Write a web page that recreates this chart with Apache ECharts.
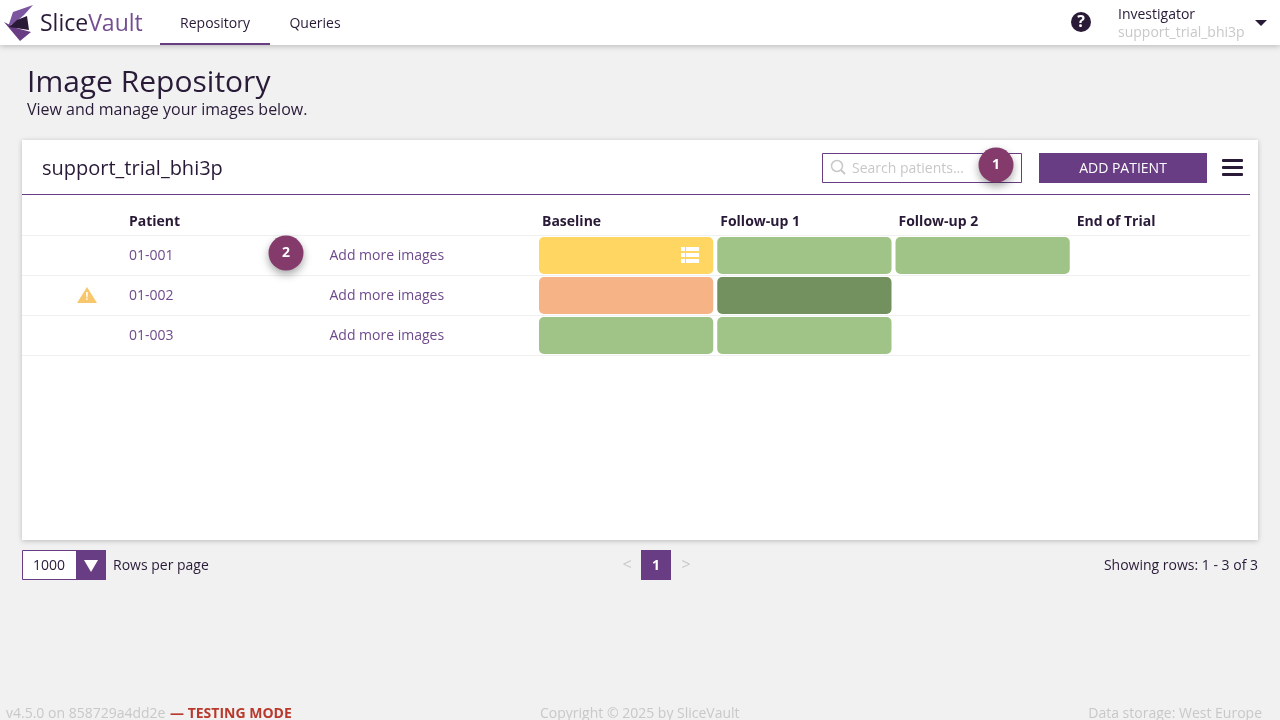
<!DOCTYPE html>
<html>
<head>
<meta charset="utf-8">
<title>Image Repository</title>
<script src="https://cdn.jsdelivr.net/npm/echarts@6/dist/echarts.min.js"></script>
<style>
  html, body { margin: 0; padding: 0; background: #f1f1f1; }
  #chart { width: 1280px; height: 720px; }
</style>
</head>
<body>
<div id="chart"></div>
<script>
// table content
var patients = ['01-001', '01-002', '01-003'];
var rowActions = ['Add more images', 'Add more images', 'Add more images'];
var visits = ['Baseline', 'Follow-up 1', 'Follow-up 2', 'End of Trial'];

// status of each visit, one list per column, one entry per patient
var baselineStatus = ['pending', 'rejected', 'done'];
var followUp1Status = ['done', 'locked', 'done'];
var followUp2Status = ['done', null, null];
var endOfTrialStatus = [null, null, null];
var visitStatus = [baselineStatus, followUp1Status, followUp2Status, endOfTrialStatus];

var statusColors = {
  pending: '#ffd662',
  rejected: '#f6b385',
  done: '#a0c387',
  locked: '#73905f'
};

var INK = '#291a38';
var PURPLE = '#693d84';
var LINK = '#6f4a8c';
var BADGE = '#843b6b';
var FONT = '"Open Sans", sans-serif';

var cellData = [];
visitStatus.forEach(function (column, c) {
  column.forEach(function (status, r) {
    if (status) cellData.push([c, r, status]);
  });
});

function renderCell(params, api) {
  var status = cellData[params.dataIndex][2];
  var p = api.coord([api.value(0), api.value(1)]);
  var size = api.size([1, 1]);
  var children = [{
    type: 'rect',
    shape: { x: p[0] + 1, y: p[1] - 18, width: size[0] - 4, height: 37, r: 5 },
    style: { fill: statusColors[status] }
  }];
  // the yellow cell carries a small list icon
  if (status === 'pending') {
    [-6, 0, 6].forEach(function (dy) {
      children.push({ type: 'rect', shape: { x: p[0] + 143, y: p[1] + dy - 2, width: 4, height: 4 }, style: { fill: '#fff' } });
      children.push({ type: 'rect', shape: { x: p[0] + 148, y: p[1] + dy - 2, width: 13, height: 4 }, style: { fill: '#fff' } });
    });
  }
  return { type: 'group', children: children };
}

function txt(x, y, text, size, color, extra) {
  var style = { x: x, y: y + 1, text: text, fill: color, font: (extra && extra.weight || 'normal') + ' ' + size + 'px ' + FONT,
    align: extra && extra.align || 'left', verticalAlign: 'middle' };
  return { type: 'text', z: 20, style: style };
}

function box(x, y, w, h, fill, extra) {
  var style = { fill: fill };
  for (var k in extra) if (k !== 'z' && k !== 'r') style[k] = extra[k];
  return { type: 'rect', z: extra && extra.z || 10, shape: { x: x, y: y, width: w, height: h, r: extra && extra.r || 0 }, style: style };
}

function poly(points, fill, z) {
  return { type: 'polygon', z: z || 20, shape: { points: points }, style: { fill: fill } };
}

function badge(x, y, label) {
  return [
    { type: 'circle', z: 30, shape: { cx: x, cy: y, r: 17.5 }, style: { fill: BADGE, shadowBlur: 8, shadowOffsetY: 4, shadowColor: 'rgba(0,0,0,0.35)' } },
    { type: 'text', z: 31, style: { x: x, y: y, text: label, fill: '#fff', font: 'bold 14px ' + FONT, align: 'center', verticalAlign: 'middle' } }
  ];
}

var chrome = [
  // page surfaces
  box(22, 140, 1236, 400, '#fff', { z: -10, shadowBlur: 5, shadowOffsetY: 1, shadowColor: 'rgba(0,0,0,0.22)' }),
  box(0, 0, 1280, 45, '#fff', { z: -9, shadowBlur: 6, shadowOffsetY: 1, shadowColor: 'rgba(0,0,0,0.25)' }),

  // logo
  poly([[13, 12], [33, 5], [24, 15], [17, 21], [8, 27]], '#7d56a0'),
  poly([[4, 22], [16, 28], [31, 32], [20, 41]], '#693d84'),
  poly([[17, 20], [27, 16], [29, 30], [9, 27]], '#291a38'),
  { type: 'text', z: 20, style: { x: 40, y: 24, verticalAlign: 'middle', text: '{a|Slice}{b|Vault}',
    rich: { a: { fill: INK, font: 'normal 23px ' + FONT }, b: { fill: '#744e93', font: 'normal 23px ' + FONT } } } },

  // navigation
  txt(215, 23, 'Repository', 14, INK, { align: 'center' }),
  txt(315, 23, 'Queries', 14, INK, { align: 'center' }),
  box(160, 43, 110, 2, PURPLE),
  { type: 'circle', z: 20, shape: { cx: 1081, cy: 22, r: 10 }, style: { fill: INK } },
  txt(1081, 21, '?', 16, '#fff', { align: 'center', weight: 'bold' }),
  txt(1118, 14, 'Investigator', 14, INK),
  txt(1118, 32, 'support_trial_bhi3p', 14, '#c8c8c8'),
  poly([[1255, 20], [1267, 20], [1261, 26]], INK),

  // page heading
  txt(27, 82, 'Image Repository', 30, INK),
  txt(27, 109, 'View and manage your images below.', 16, INK),

  // card header
  txt(42, 168, 'support_trial_bhi3p', 20, INK),
  box(822.5, 153.5, 199, 29, '#fff', { stroke: PURPLE, lineWidth: 1 }),
  { type: 'circle', z: 20, shape: { cx: 837, cy: 166, r: 5.5 }, style: { fill: 'none', stroke: '#c8c8c8', lineWidth: 1.5 } },
  { type: 'line', z: 20, shape: { x1: 841, y1: 170, x2: 845, y2: 174 }, style: { stroke: '#c8c8c8', lineWidth: 2 } },
  txt(852, 168, 'Search patients...', 14, '#c8c8c8'),
  box(1039, 153, 168, 30, PURPLE),
  txt(1123, 168, 'ADD PATIENT', 14, '#fff', { align: 'center' }),
  box(1222, 159, 21, 3, INK, { r: 1 }),
  box(1222, 166, 21, 3, INK, { r: 1 }),
  box(1222, 173, 21, 3, INK, { r: 1 }),
  box(22, 194, 1228, 1, PURPLE),
  txt(129, 221, 'Patient', 14, INK, { weight: 'bold' }),

  // warning on the second row
  poly([[87, 287], [97, 303], [77, 303]], '#f8c76b'),
  txt(87, 296, '!', 10, '#fff', { align: 'center', weight: 'bold' }),

  // pager row
  box(22.5, 550.5, 83, 29, '#fff', { stroke: PURPLE, lineWidth: 1 }),
  box(76, 550, 30, 30, PURPLE),
  poly([[84, 560], [98, 560], [91, 572]], '#fff'),
  txt(33, 565, '1000', 14, INK),
  txt(113, 565, 'Rows per page', 14, INK),
  txt(627, 564, '<', 16, '#c8c8c8', { align: 'center' }),
  box(641, 550, 30, 30, PURPLE),
  txt(656, 565, '1', 14, '#fff', { align: 'center', weight: 'bold' }),
  txt(686, 564, '>', 16, '#c8c8c8', { align: 'center' }),
  txt(1258, 565, 'Showing rows: 1 - 3 of 3', 14, INK, { align: 'right' }),

  // footer
  txt(6, 713, 'v4.5.0 on 858729a4dd2e', 14, '#c8c8c8'),
  txt(170, 713, '\u2014 TESTING MODE', 14, '#b8392c', { weight: 'bold' }),
  txt(540, 713, 'Copyright \u00a9 2025 by SliceVault', 14, '#c8c8c8'),
  txt(1262, 713, 'Data storage: West Europe', 14, '#c8c8c8', { align: 'right' })
].concat(badge(996, 165, '1'), badge(286, 253, '2'));

var myChart = echarts.init(document.getElementById('chart'), null, { renderer: 'canvas' });
var option = {
  animation: false,
  backgroundColor: '#f1f1f1',
  textStyle: { fontFamily: FONT },
  graphic: { elements: chrome },
  grid: [
    { left: 538, top: 235, width: 713, height: 120 },
    { left: 22, top: 235, width: 1228, height: 120 },
    // row labels sit a pixel lower than the row bands
    { left: 22, top: 236, width: 1228, height: 120 }
  ],
  xAxis: [
    {
      gridIndex: 0, type: 'value', position: 'top', min: 0, max: 4, interval: 1,
      axisLine: { show: false }, axisTick: { show: false }, splitLine: { show: false },
      axisLabel: {
        align: 'left', margin: 6, padding: [0, 0, 0, 4], showMinLabel: true, hideOverlap: false,
        color: INK, fontWeight: 'bold', fontSize: 14, fontFamily: FONT,
        formatter: function (v) { return visits[v] || ''; }
      }
    },
    { gridIndex: 1, type: 'value', show: false, min: 0, max: 1 },
    { gridIndex: 2, type: 'value', show: false, min: 0, max: 1 }
  ],
  yAxis: [
    { gridIndex: 0, type: 'category', data: patients, inverse: true, show: false },
    {
      gridIndex: 1, type: 'category', data: patients, inverse: true,
      axisLine: { show: false }, axisTick: { show: false }, axisLabel: { show: false },
      splitLine: { show: true, lineStyle: { color: '#f0f0f0', width: 1 } }
    },
    {
      gridIndex: 2, type: 'category', data: patients, inverse: true,
      axisLine: { show: false }, axisTick: { show: false }, splitLine: { show: false },
      axisLabel: { inside: true, margin: 107, color: LINK, fontSize: 14, fontFamily: FONT }
    },
    {
      gridIndex: 2, type: 'category', data: rowActions.map(function (a, i) { return a + '\u200b'.repeat(i); }), inverse: true, position: 'left',
      axisLine: { show: false }, axisTick: { show: false }, splitLine: { show: false },
      axisLabel: { inside: true, margin: 307.5, color: LINK, fontSize: 14, fontFamily: FONT }
    }
  ],
  series: [
    {
      type: 'custom', xAxisIndex: 0, yAxisIndex: 0, z: 5, silent: true,
      renderItem: renderCell,
      encode: { x: 0, y: 1 },
      data: cellData
    },
    // keeps the row axes of the wide grids alive
    { type: 'scatter', xAxisIndex: 1, yAxisIndex: 1, symbolSize: 0, data: [] },
    { type: 'scatter', xAxisIndex: 2, yAxisIndex: 2, symbolSize: 0, data: [] },
    { type: 'scatter', xAxisIndex: 2, yAxisIndex: 3, symbolSize: 0, data: [] }
  ]
};
myChart.setOption(option);
</script>
</body>
</html>
